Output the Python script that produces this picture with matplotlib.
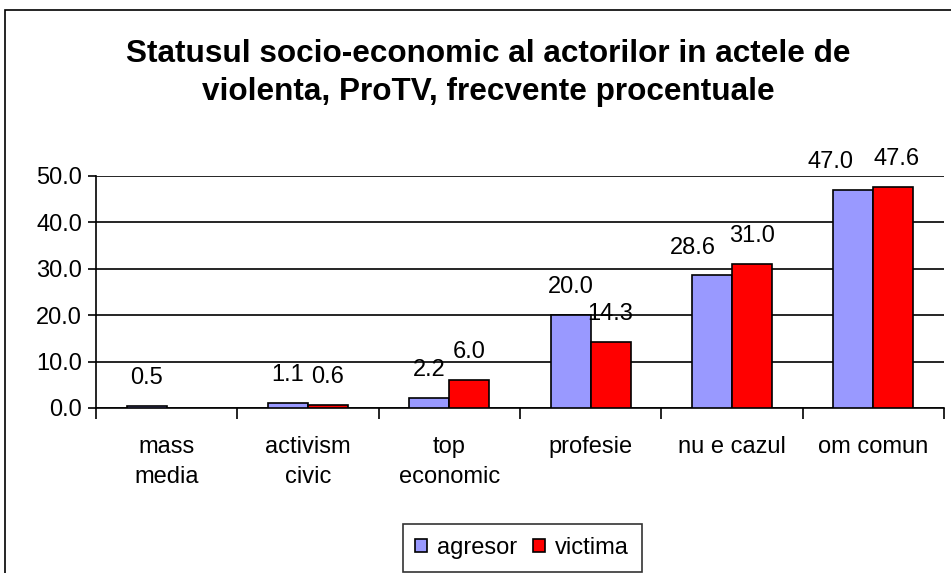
"""
Statusul socio-economic al actorilor - grafic cu bare grupate (stil Excel).
"""

import numpy as np
import matplotlib
matplotlib.use("Agg")
import matplotlib.pyplot as plt
from matplotlib.patches import Rectangle

plt.rcParams["font.family"] = ["Liberation Sans", "DejaVu Sans"]

categories = ["mass\nmedia", "activism\ncivic", "top\neconomic",
              "profesie", "nu e cazul", "om comun"]
agresor = [0.5, 1.1, 2.2, 20.0, 28.6, 47.0]
victima = [np.nan, 0.6, 6.0, 14.3, 31.0, 47.6]
series_names = ["agresor", "victima"]
colors = ["#9999FF", "#FF0000"]
yticks = [0, 10, 20, 30, 40, 50]

# etichete mutate lateral ca in Excel, ca sa nu se suprapuna (serie, categorie) -> px
label_nudge = {(0, 4): -19, (0, 5): -23, (1, 5): 3}

W, H = 951, 573
fig = plt.figure(figsize=(W / 100, H / 100), dpi=100)

# chenarul exterior al graficului (taiat la dreapta si jos)
fig.patches.append(Rectangle((5 / W, -0.05), 1.1, 1 - 10 / H + 0.05,
                             transform=fig.transFigure, fill=False,
                             edgecolor="black", linewidth=1.2))

ax = fig.add_axes([96 / W, 1 - 408 / H, 848 / W, 232 / H])

x = np.arange(len(categories))
bw = 0.283
for i, (vals, name, col) in enumerate(zip([agresor, victima], series_names, colors)):
    pos = x + (i - 0.5) * bw
    ax.bar(pos, vals, width=bw, color=col, edgecolor="black",
           linewidth=1.2, label=name, zorder=3)
    for j, (p, v) in enumerate(zip(pos, vals)):
        if np.isnan(v):
            continue
        dx = label_nudge.get((i, j), 0) * 0.72
        ax.annotate(f"{v:.1f}", (p, v), xytext=(dx, 20),
                    textcoords="offset points", ha="center", va="center",
                    fontsize=17, zorder=4)

ax.set_xlim(-0.5, len(categories) - 0.5)
ax.set_ylim(0, 50)
ax.set_yticks(yticks)
ax.set_yticklabels([f"{t:.1f}" for t in yticks], fontsize=17)
ax.yaxis.grid(True, color="black", linewidth=1.2, zorder=0)
ax.set_axisbelow(True)

ax.set_xticks(x)
ax.set_xticklabels(categories, fontsize=17, linespacing=1.5, va="top")
ax.set_xticks(np.arange(len(categories) + 1) - 0.5, minor=True)
ax.tick_params(axis="x", which="major", length=0, pad=20)
ax.tick_params(axis="x", which="minor", length=8, width=1.2, direction="out")
ax.tick_params(axis="y", length=6, width=1.2, direction="out", pad=4)

for s in ["top", "right"]:
    ax.spines[s].set_visible(False)
ax.spines["left"].set_linewidth(1.2)
ax.spines["bottom"].set_linewidth(1.2)

fig.text(488 / W, 1 - 73 / H,
         "Statusul socio-economic al actorilor in actele de\n"
         "violenta, ProTV, frecvente procentuale",
         ha="center", va="center", fontsize=22.7, fontweight="bold",
         linespacing=1.38)

leg = fig.legend(loc="center", bbox_to_anchor=(522 / W, 1 - 548 / H),
                 ncol=2, fontsize=17, frameon=True, fancybox=False,
                 edgecolor="black", handlelength=0.5, handleheight=0.5,
                 handletextpad=0.4, columnspacing=0.7, borderpad=0.55,
                 borderaxespad=0)
leg.get_frame().set_linewidth(1.2)

fig.savefig("out.png", dpi=100)
